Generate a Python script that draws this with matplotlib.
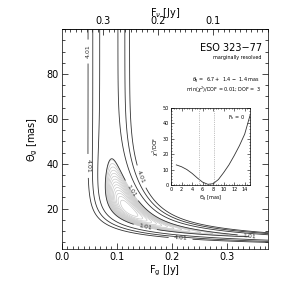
import numpy as np
import matplotlib
matplotlib.use("Agg")
from matplotlib import pyplot as plt
from matplotlib.ticker import MultipleLocator

# measured correlated fluxes (Jy) on five baselines (m), lambda = 12 um
baselines = np.array([40., 60., 80., 105., 130.])
f_corr = np.array([0.338, 0.307, 0.282, 0.264, 0.257])
f_err = 0.031
f_total = 0.375
dof = 3

# chi2/DOF cut for F_h = 0 (inset)
theta_cut = [1, 2, 3, 4, 5, 6, 7, 8, 9, 10, 11, 12, 13, 14, 15]
chi2_cut = [13.0, 11.8, 10.0, 7.5, 4.5, 1.8, 0.4, 0.8, 3.5, 8.0, 13.0, 19.0, 25.5, 33.0, 45.0]
theta_best, theta_lo, theta_hi = 6.7, 1.4, 1.4

grey_levels = 0.01 + np.arange(0.07, 1.0, 0.07)
plain_levels = [2.01, 3.01]

# chi2 surface for point source + gaussian
fg = np.linspace(0.001, 0.38, 400)
th = np.linspace(1, 100, 400)
FG, TH = np.meshgrid(fg, th)
k = np.pi * 4.8481e-9 / 12e-6 / np.sqrt(4 * np.log(2))
chi2 = np.zeros_like(FG)
for b, f in zip(baselines, f_corr):
    model = (f_total - FG) + FG * np.exp(-(k * b * TH) ** 2)
    chi2 += ((model - f) / f_err) ** 2
chi2 /= dof

fig = plt.figure(figsize=(2.99, 2.94), dpi=100)
ax = fig.add_axes([0.207, 0.153, 0.689, 0.748])
ax.contour(FG, TH, chi2, levels=grey_levels, colors='#c8c8c8', linewidths=0.5)
ax.contour(FG, TH, chi2, levels=plain_levels, colors='#333333', linewidths=0.6)
cs1 = ax.contour(FG, TH, chi2, levels=[1.01], colors='#333333', linewidths=0.6)
cs4 = ax.contour(FG, TH, chi2, levels=[4.01], colors='#333333', linewidths=0.6)
# label spots (data coords)
ax.clabel(cs4, fmt='%.2f', fontsize=4.5, inline=True,
          manual=[(0.047, 90), (0.042, 39), (0.142, 34), (0.216, 6.7)])
ax.clabel(cs1, fmt='%.2f', fontsize=4.5, inline=True,
          manual=[(0.127, 28), (0.151, 11), (0.342, 9.4)])

ax.set_xlim(0, f_total)
ax.set_ylim(2, 100)
ax.xaxis.set_major_locator(MultipleLocator(0.1))
ax.xaxis.set_minor_locator(MultipleLocator(0.01))
ax.yaxis.set_major_locator(MultipleLocator(20))
ax.yaxis.set_minor_locator(MultipleLocator(5))
ax.tick_params(which='both', direction='in', top=False, right=True, labelsize=7, width=0.5, pad=2.5)
ax.tick_params(which='major', length=4)
ax.tick_params(which='minor', length=2)
ax.set_yticks([20, 40, 60, 80])
ax.set_xlabel(r'F$_{\rm g}$ [Jy]', fontsize=7, labelpad=1)
ax.set_ylabel(r'$\Theta_{\rm g}$ [mas]', fontsize=7, labelpad=4)
for s in ax.spines.values():
    s.set_linewidth(0.5)

sec = ax.secondary_xaxis('top', functions=(lambda x: f_total - x, lambda x: f_total - x))
sec.xaxis.set_major_locator(MultipleLocator(0.1))
sec.xaxis.set_minor_locator(MultipleLocator(0.01))
sec.tick_params(which='both', direction='in', labelsize=7, width=0.5, pad=2)
sec.tick_params(which='major', length=4)
sec.tick_params(which='minor', length=2)
sec.set_xticks([0.1, 0.2, 0.3])
sec.set_xlabel(r'F$_\nu$ [Jy]', fontsize=7, labelpad=0.5)
sec.spines['top'].set_linewidth(0.5)

ax.text(0.97, 0.914, 'ESO 323\u221277', transform=ax.transAxes, ha='right', va='center', fontsize=7)
ax.text(0.97, 0.871, 'marginally resolved', transform=ax.transAxes, ha='right', va='center', fontsize=3.5)
ax.text(0.96, 0.765,
        r'$\theta_{\rm g}$ =  ' + '%.1f +  %.1f \u2212  %.1f mas' % (theta_best, theta_hi, theta_lo),
        transform=ax.transAxes, ha='right', va='center', fontsize=3.5)
ax.text(0.97, 0.722, r'min($\chi^2$)/DOF = 0.01; DOF =  %d' % dof,
        transform=ax.transAxes, ha='right', va='center', fontsize=3.5)

ins = fig.add_axes([0.572, 0.371, 0.264, 0.262])
ins.plot(theta_cut, chi2_cut, color='#333333', lw=0.6)
for v in [theta_best - theta_lo, theta_best + theta_hi]:
    ins.axvline(v, color='#888888', lw=0.5, ls=':')
ins.set_xlim(0, 15)
ins.set_ylim(0, 50)
ins.xaxis.set_major_locator(MultipleLocator(2))
ins.xaxis.set_minor_locator(MultipleLocator(0.5))
ins.yaxis.set_major_locator(MultipleLocator(10))
ins.yaxis.set_minor_locator(MultipleLocator(2))
ins.tick_params(which='both', direction='in', top=True, right=True, labelsize=3.5, width=0.4, pad=1.5)
ins.tick_params(which='major', length=2)
ins.tick_params(which='minor', length=1)
ins.set_xlabel(r'$\Theta_{\rm g}$ [mas]', fontsize=3.5, labelpad=1)
ins.set_ylabel(r'$\chi^2$/DOF', fontsize=3.5, labelpad=1)
ins.text(0.72, 0.86, r'F$_{\rm h}$ = 0', transform=ins.transAxes, fontsize=3.5)
for s in ins.spines.values():
    s.set_linewidth(0.5)

plt.savefig("out.png", dpi=100)
